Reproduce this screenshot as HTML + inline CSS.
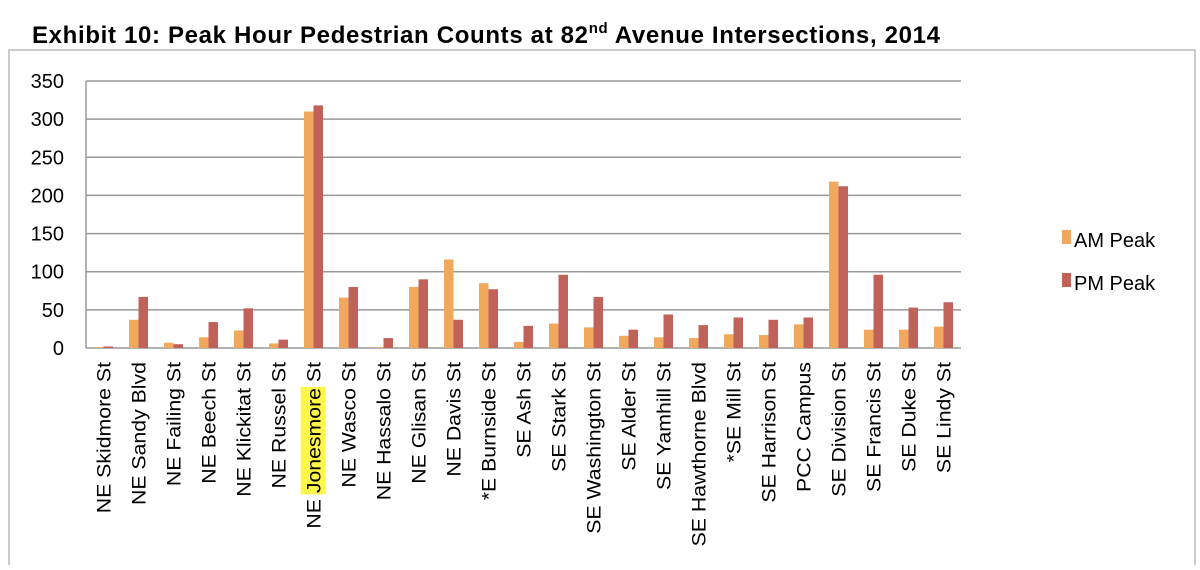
<!DOCTYPE html>
<html><head><meta charset="utf-8">
<style>
body{margin:0;background:#fff;width:1200px;height:565px;overflow:hidden;font-family:"Liberation Sans",sans-serif;}
svg text{font-family:"Liberation Sans",sans-serif;}
</style></head>
<body>
<svg id="chart" width="1200" height="565" viewBox="0 0 1200 565" xmlns="http://www.w3.org/2000/svg">
<text x="32" y="43" font-size="24" font-weight="bold" fill="#000" textLength="908" lengthAdjust="spacing">Exhibit 10: Peak Hour Pedestrian Counts at 82<tspan font-size="15" dy="-10">nd</tspan><tspan dy="10"> Avenue Intersections, 2014</tspan></text>
<rect x="9" y="50" width="1186" height="530" fill="none" stroke="#bbb" stroke-width="1.5"/>
<g id="grid"></g>
<g id="bars"></g>
<g id="xlabels"></g>
<g>
<rect x="1062" y="230" width="9" height="14" fill="#f0a95c"/>
<text x="1074" y="247" font-size="20" fill="#000">AM Peak</text>
<rect x="1062" y="273" width="9" height="14" fill="#c0625a"/>
<text x="1074" y="290" font-size="20" fill="#000">PM Peak</text>
</g>
</svg>
<script>
const categories=["NE Skidmore St","NE Sandy Blvd","NE Failing St","NE Beech St","NE Klickitat St","NE Russel St","NE Jonesmore St","NE Wasco St","NE Hassalo St","NE Glisan St","NE Davis St","*E Burnside St","SE Ash St","SE Stark St","SE Washington St","SE Alder St","SE Yamhill St","SE Hawthorne Blvd","*SE Mill St","SE Harrison St","PCC Campus","SE Division St","SE Francis St","SE Duke St","SE Lindy St"];
const amPeak=[1,37,7,14,23,6,310,66,1,80,116,85,8,32,27,16,14,13,18,17,31,218,24,24,28];
const pmPeak=[2,67,5,34,52,11,318,80,13,90,37,77,29,96,67,24,44,30,40,37,40,212,96,53,60];
const yTicks=[0,50,100,150,200,250,300,350];
const NS="http://www.w3.org/2000/svg";
const X0=86,X1=961,Y0=348,Y1=81,YMAX=350;
const y=v=>Y0-(v/YMAX)*(Y0-Y1);
const band=(X1-X0)/categories.length;
const x=i=>X0+i*band;
function mk(t,a,p){const e=document.createElementNS(NS,t);for(const k in a)e.setAttribute(k,a[k]);p.appendChild(e);return e;}
const grid=document.getElementById('grid'),bars=document.getElementById('bars'),xl=document.getElementById('xlabels');
yTicks.forEach(v=>{
 const l=mk('line',{x1:X0,x2:X1,y1:y(v),y2:y(v),stroke:'#999','stroke-width':1.5},grid);
 
 
 const t=mk('text',{x:X0-22,y:y(v)+7,'font-size':20,'text-anchor':'end',fill:'#000'},grid);
 t.textContent=v;
 
 
});
const ax=mk('line',{x1:X0,x2:X0,y1:Y1,y2:Y0,stroke:'#999','stroke-width':1.5},grid);


const bw=9.5;
categories.forEach((c,i)=>{
 const cx=x(i)+band/2;
 const a=mk('rect',{x:cx-bw,y:y(amPeak[i]),width:bw,height:Y0-y(amPeak[i]),fill:'#f0a95c'},bars);
 
 
 const p=mk('rect',{x:cx,y:y(pmPeak[i]),width:bw,height:Y0-y(pmPeak[i]),fill:'#c0625a'},bars);
 
 
 const g=mk('g',{transform:`translate(${cx+7},362) rotate(-90) scale(1.12,1)`},xl);
 
 
 let hl=null;
 if(c==="NE Jonesmore St"){
  hl=mk('rect',{x:0,y:-20,width:0,height:25,fill:'#fff64a'},g);
 }
 const t=mk('text',{x:0,y:0,'font-size':19,'text-anchor':'end',fill:'#000'},g);
 t.textContent=c;
 if(hl){
  try{
   const total=t.getComputedTextLength();
   const s=c.indexOf('Jonesmore');
   const pre=t.getSubStringLength(0,s);
   const w=t.getSubStringLength(s,9);
   hl.setAttribute('x',-total+pre-1);
   hl.setAttribute('width',w+2);
  }catch(e){hl.setAttribute('x',-112);hl.setAttribute('width',92);}
 }
});
</script>
</body></html>
